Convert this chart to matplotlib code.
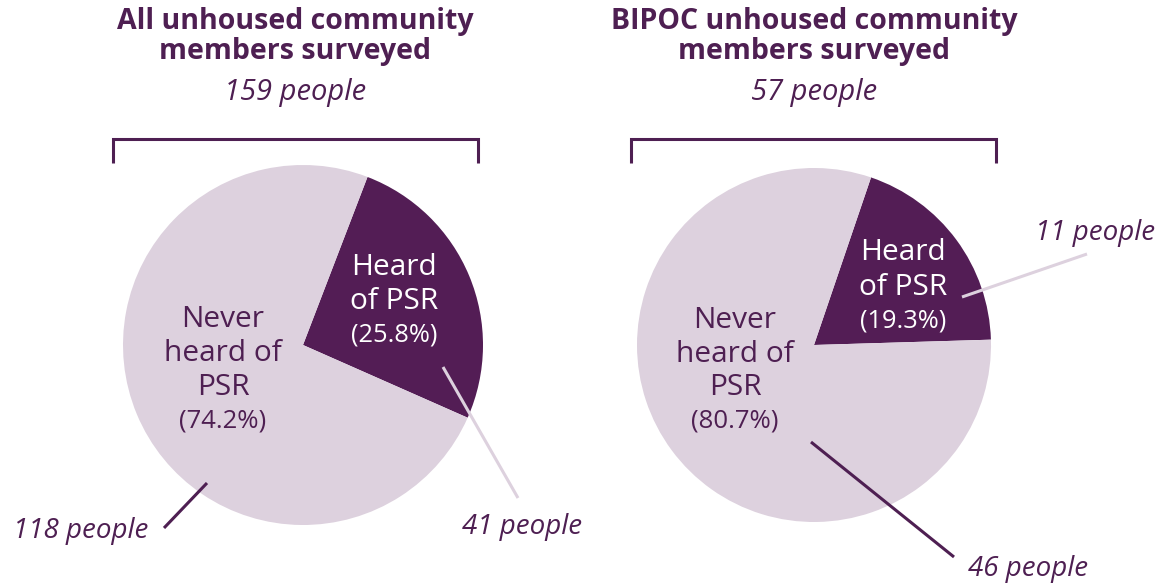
import matplotlib.pyplot as plt

W, H = 1156, 584
DARK = "#531d55"
LIGHT = "#ddd1de"
INK = "#4e1f52"
FONT = "Open Sans"

titles = ["All unhoused community\nmembers surveyed",
          "BIPOC unhoused community\nmembers surveyed"]
totals = [159, 57]
heard = [41, 11]
never = [118, 46]

# layout, in pixels measured from the top-left corner of the picture
centers = [(303, 345), (814, 345)]
radii = [180, 177]
start_angles = [69, 71.2]
title_x = [295, 814]
brackets = [(113, 478), (631, 996)]
heard_pos = [(394, [275, 309, 342]), (903, [260, 295, 328])]
never_pos = [(223, [327, 361, 395, 427]), (735, [328, 362, 395, 428])]
heard_note = [((462, 534), (443, 367), (518, 498), LIGHT),
              ((1035, 240), (962, 297), (1087, 254), LIGHT)]
never_note = [((13, 538), (164, 528), (207, 483), INK),
              ((968, 576), (811, 442), (954, 557), INK)]

fig = plt.figure(figsize=(W / 100, H / 100), dpi=100)
ax = fig.add_axes([0, 0, 1, 1])


def txt(x, y, s, **kw):
    kw.setdefault("color", INK)
    kw.setdefault("family", FONT)
    kw.setdefault("ha", "center")
    kw.setdefault("va", "baseline")
    ax.text(x, H - y, s, **kw)


for i in range(2):
    cx, cy = centers[i]
    ax.pie([heard[i], never[i]], colors=[DARK, LIGHT], center=(cx, H - cy),
           radius=radii[i], startangle=start_angles[i], counterclock=False,
           wedgeprops=dict(linewidth=0))

    line1, line2 = titles[i].split("\n")
    txt(title_x[i], 29, line1, fontsize=20.5, fontweight="bold")
    txt(title_x[i], 59, line2, fontsize=20.5, fontweight="bold")
    txt(title_x[i], 100, f"{totals[i]} people", fontsize=21, style="italic")

    x0, x1 = brackets[i]
    ax.plot([x0, x0, x1, x1], [H - 163, H - 139, H - 139, H - 163],
            color=INK, lw=2.2, solid_joinstyle="miter", solid_capstyle="butt")

    hp = heard[i] / totals[i] * 100
    np_ = never[i] / totals[i] * 100
    hx, hys = heard_pos[i]
    for s, y, fs in zip(["Heard", "of PSR", f"({hp:.1f}%)"], hys, [21.5, 21.5, 18.3]):
        txt(hx, y, s, fontsize=fs, color="white")
    nx, nys = never_pos[i]
    for s, y, fs in zip(["Never", "heard of", "PSR", f"({np_:.1f}%)"], nys,
                        [21.5, 21.5, 21.5, 18.5]):
        txt(nx, y, s, fontsize=fs)

    for (tx, ty), a, b, c in [heard_note[i]]:
        ax.plot([a[0], b[0]], [H - a[1], H - b[1]], color=c, lw=2.2,
                solid_capstyle="butt")
        txt(tx, ty, f"{heard[i]} people", fontsize=20, style="italic", ha="left")
    for (tx, ty), a, b, c in [never_note[i]]:
        ax.plot([a[0], b[0]], [H - a[1], H - b[1]], color=c, lw=2.2,
                solid_capstyle="butt")
        txt(tx, ty, f"{never[i]} people", fontsize=20, style="italic", ha="left")

ax.set_xlim(0, W)
ax.set_ylim(0, H)
ax.set_aspect("equal")
ax.axis("off")
fig.savefig("out.png", dpi=100, facecolor="white")
